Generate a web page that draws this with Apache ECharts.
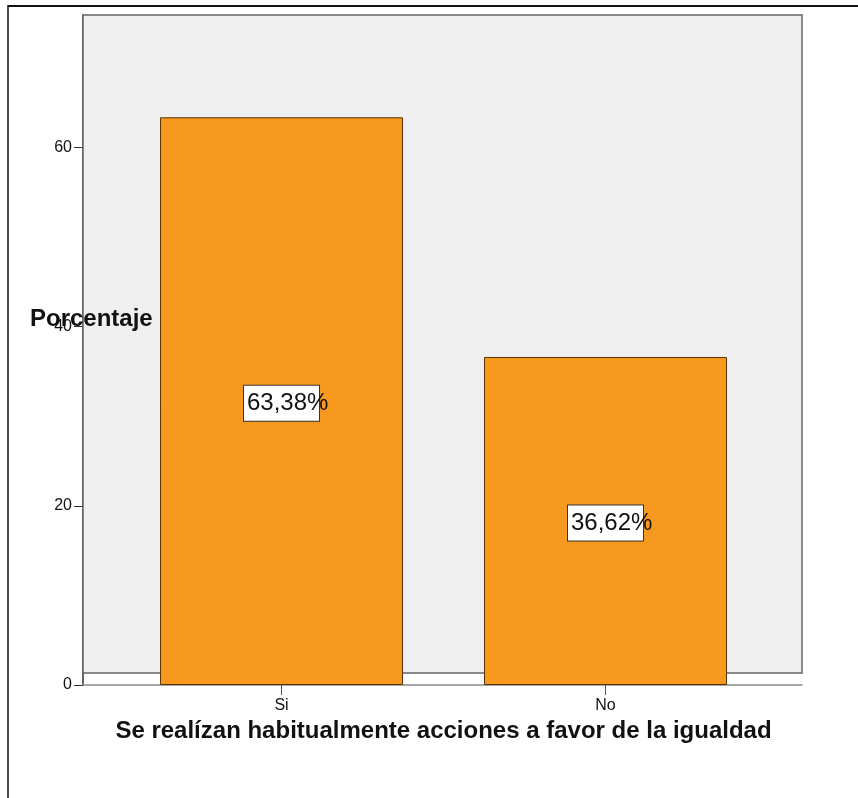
<!DOCTYPE html>
<html>
<head>
<meta charset="utf-8">
<script src="https://cdn.jsdelivr.net/npm/echarts@6/dist/echarts.min.js"></script>
<style>
  html, body { margin: 0; padding: 0; background: #ffffff; }
  #chart { width: 858px; height: 798px; }
</style>
</head>
<body>
<div id="chart"></div>
<script>
// Answers to "Se realízan habitualmente acciones a favor de la igualdad"
const categories = ['Si', 'No'];
const percentages = [63.38, 36.62];
const yTicks = [0, 20, 40, 60];
const yMax = 74.8;
const panelFloor = 1.34;   // lower edge of the shaded panel, in axis units

const FONT = "Arial, 'Liberation Sans', sans-serif";
const fmtPct = v => v.toFixed(2).replace('.', ',') + '%';

const chart = echarts.init(document.getElementById('chart'));

chart.setOption({
  animation: false,
  backgroundColor: '#ffffff',
  grid: [
    // shaded panel
    { left: 83, right: 56, top: 15, bottom: 113 },
    // value axis frame
    { left: 83, right: 56, top: 15, bottom: 113 },
    // bar area
    { left: 119.5, right: 90.5, top: 15, bottom: 113 }
  ],
  xAxis: [
    { gridIndex: 0, type: 'value', min: 0, max: 1, show: false },
    {
      gridIndex: 1, type: 'value', min: 0, max: 1,
      axisLine: { show: true, lineStyle: { color: '#8a8a8a', width: 1.5 } },
      axisTick: { show: false }, axisLabel: { show: false }, splitLine: { show: false }
    },
    {
      gridIndex: 2, type: 'category', data: categories,
      axisLine: { show: false },
      axisTick: { show: true, alignWithLabel: true, length: 10, lineStyle: { color: '#555', width: 1 } },
      axisLabel: { fontFamily: FONT, fontSize: 16, color: '#111', margin: 13 },
      name: 'Se realízan habitualmente acciones a favor de la igualdad',
      nameLocation: 'middle', nameGap: 25,
      nameTextStyle: { fontFamily: FONT, fontSize: 24, fontWeight: 'bold', color: '#111' }
    }
  ],
  yAxis: [
    { gridIndex: 0, type: 'value', min: 0, max: yMax, show: false },
    {
      gridIndex: 1, type: 'value', min: 0, max: yMax, interval: 20,
      axisLine: { show: true, lineStyle: { color: '#333', width: 1.5 } },
      axisTick: { show: true, length: 9, customValues: yTicks, lineStyle: { color: '#333' } },
      axisLabel: { customValues: yTicks, fontFamily: FONT, fontSize: 16, color: '#111', margin: 11 },
      splitLine: { show: false }
    },
    { gridIndex: 2, type: 'value', min: 0, max: yMax, show: false }
  ],
  graphic: [
    // outer frame edges
    { type: 'line', shape: { x1: 8, y1: 6, x2: 858, y2: 6 }, style: { stroke: '#111', lineWidth: 2 }, z: 10 },
    { type: 'line', shape: { x1: 8, y1: 5, x2: 8, y2: 798 }, style: { stroke: '#111', lineWidth: 1.5 }, z: 10 },
    // value axis title
    {
      type: 'text', left: 30, top: 307, z: 20,
      style: { text: 'Porcentaje', font: "bold 24px Arial, 'Liberation Sans', sans-serif", fill: '#111' }
    }
  ],
  series: [
    {
      // shaded panel behind the bars
      type: 'line', xAxisIndex: 0, yAxisIndex: 0, data: [], z: 1,
      markArea: {
        silent: true,
        itemStyle: { color: '#efefef', borderColor: '#666', borderWidth: 1.5 },
        data: [[{ yAxis: panelFloor }, { yAxis: yMax }]]
      }
    },
    {
      type: 'bar', xAxisIndex: 2, yAxisIndex: 2, z: 5,
      data: percentages,
      barCategoryGap: '25%',
      itemStyle: { color: '#f7991f', borderColor: '#5a3400', borderWidth: 1 },
      label: {
        show: true, position: 'inside', align: 'center', offset: [0, 2],
        formatter: p => '{v|' + fmtPct(p.value) + '}',
        backgroundColor: '#ffffff', borderColor: '#333', borderWidth: 1,
        padding: 0,
        rich: {
          v: {
            fontFamily: FONT, fontSize: 24, color: '#111',
            width: 72, height: 35, lineHeight: 35, align: 'left',
            padding: [0, 0, 0, 3]
          }
        }
      }
    }
  ]
});
</script>
</body>
</html>
